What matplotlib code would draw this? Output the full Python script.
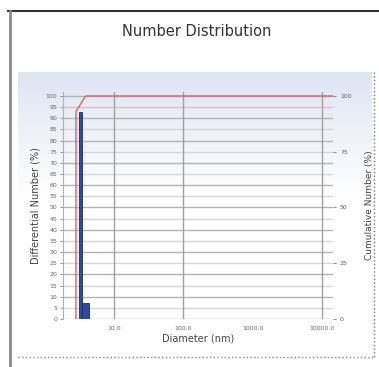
import numpy as np
import matplotlib.pyplot as plt
from matplotlib.lines import Line2D

# --- Datos ---
diametros = [3.3, 3.9]           # nm, centro de cada clase
diferencial = [93, 7]            # % en número
cum_x = [2.82, 2.83, 3.9, 14400]
cum_y = [0, 93, 100, 100]
ticks_x = [10, 100, 1000, 10000]
etiquetas_x = ['10.0', '100.0', '1000.0', '10000.0']
ticks_izq = list(range(0, 101, 5))
ticks_der = [0, 25, 50, 75, 100]

W, H = 379, 367
fig = plt.figure(figsize=(W / 100, H / 100), dpi=100)
fig.patch.set_facecolor('white')

# --- Panel con degradado de fondo ---
panel = fig.add_axes([18 / W, 1 - 350 / H, (372 - 18) / W, (350 - 72) / H], zorder=-2)
grad = np.ones((200, 2, 3))
t = np.clip(np.linspace(0, 1, 200) / 0.45, 0, 1)[:, None]
top = np.array([0.87, 0.90, 0.95])
grad[:] = (top * (1 - t) + np.array([1, 1, 1]) * t)[:, None, :]
panel.imshow(grad, aspect='auto', extent=[0, 1, 0, 1])
panel.axis('off')

# --- Ejes principales ---
ax = fig.add_axes([63 / W, 1 - 319 / H, 270 / W, 227.5 / H])
ax.set_facecolor('none')
ax.set_xscale('log')
ax.set_xlim(1.84, 14400)
ax.set_ylim(0, 102)

# rejilla horizontal: más marcada cada 10
for v in ticks_izq:
    col = '#b4b4b4' if v % 10 == 0 else '#d6d6d6'
    if v == 95:
        col = '#ebb8c0'
    ax.axhline(v, color=col, lw=1.0, zorder=0)
for v in [10, 100, 10000]:
    ax.axvline(v, color='#a0a0a0', lw=1.0, zorder=0)

# barras (ancho en escala log)
anchos = [1.05, 1.13]
for d, v, f in zip(diametros, diferencial, anchos):
    ax.bar(d / f, v, width=d * f - d / f, align='edge',
           color='#2f4a9e', edgecolor='#1c2c6a', lw=0.6, zorder=3)

# acumulado
ax2 = ax.twinx()
ax2.set_ylim(0, 102)
ax2.plot(cum_x, cum_y, color='#e0606a', lw=1.0, zorder=4)

ax.set_xticks(ticks_x)
ax.set_xticklabels(etiquetas_x)
ax.xaxis.set_minor_locator(plt.NullLocator())
ax.set_yticks(ticks_izq)
ax.tick_params(axis='x', labelsize=4.5, colors='#666666', length=0, pad=5)
ax.tick_params(axis='y', labelsize=4.5, colors='#666666', length=2, width=0.5, pad=2)
ax2.set_yticks(ticks_der)
ax2.tick_params(axis='y', labelsize=4.5, colors='#4a5a9a', length=2, width=0.5, pad=3)

for a in (ax, ax2):
    for s in a.spines.values():
        s.set_visible(False)
ax.spines['left'].set_visible(True)
ax.spines['left'].set_color('#b0b0b0')
ax.spines['left'].set_linewidth(0.8)

ax.set_xlabel('Diameter (nm)', fontsize=7, color='#444444', labelpad=2)
ax.set_ylabel('Differential Number (%)', fontsize=7, color='#444444', labelpad=4)
ax2.set_ylabel('Cumulative Number (%)', fontsize=6.5, color='#444444', labelpad=10)

fig.text(197 / W, 1 - 32 / H, 'Number Distribution', ha='center', va='center',
         fontsize=10.5, color='#333333')

# --- Marco exterior ---
fig.add_artist(Line2D([8 / W, 1], [1 - 10.5 / H] * 2, color='#333333', lw=1.5))
fig.add_artist(Line2D([9.5 / W] * 2, [1 - 10.5 / H, 0], color='#8a8a8a', lw=2))
fig.add_artist(Line2D([374 / W] * 2, [1 - 72 / H, 1 - 357 / H], color='#777777',
                      lw=1, ls=':'))
fig.add_artist(Line2D([18 / W, 374 / W], [1 - 357 / H] * 2, color='#888888',
                      lw=1, ls=':'))

fig.savefig('out.png', dpi=100)
